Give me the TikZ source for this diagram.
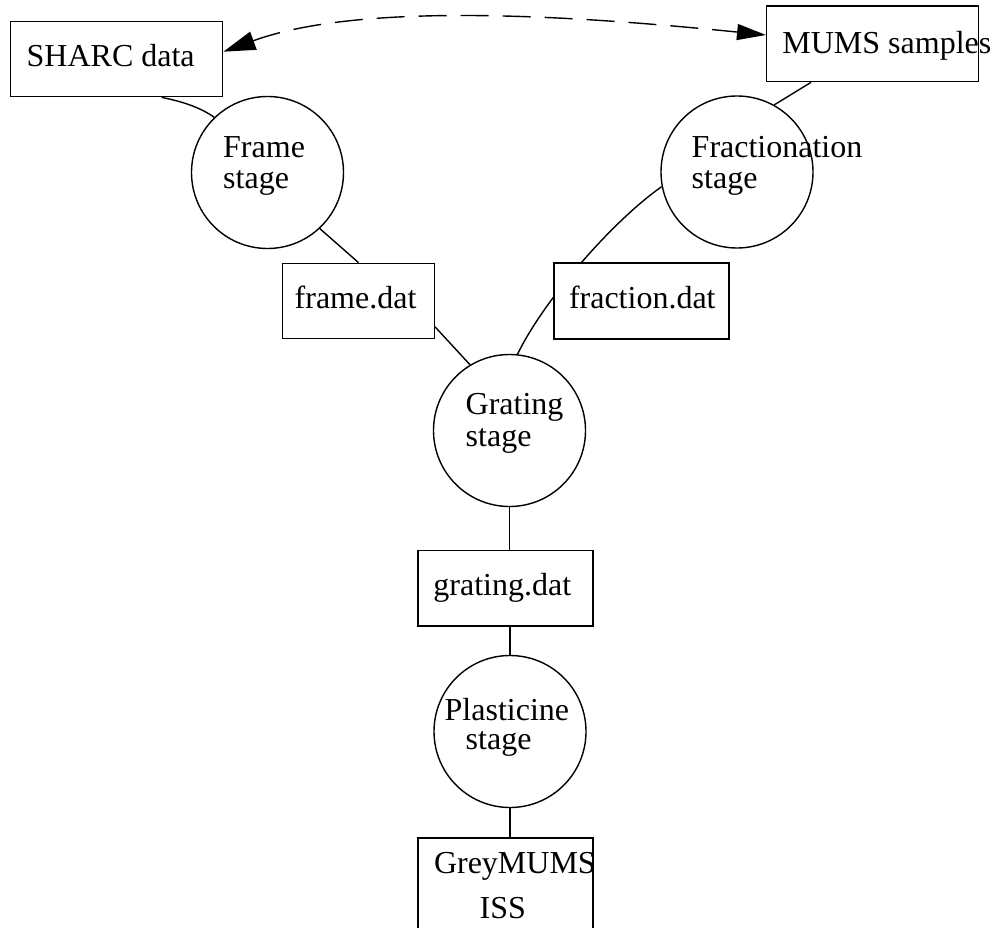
\documentclass[tikz,border=0pt]{standalone}
\usepackage{fontspec}
\setmainfont{Liberation Serif}
\usetikzlibrary{arrows.meta,backgrounds}
\begin{document}
\begin{tikzpicture}[x=1pt,y=-1pt, line width=1.4pt,
  box/.style={draw, fill=white, rectangle, inner sep=0pt},
  stagecirc/.style={draw, fill=white, circle, minimum size=152pt, inner sep=0pt},
  txt/.style={anchor=base west, inner sep=0pt, font=\fontsize{32}{36}\selectfont},
  link/.style={line width=1.4pt},
  dashlink/.style={line width=1.4pt, dash pattern=on 28pt off 14pt,
    {Triangle[length=32pt,width=19pt]}-{Triangle[length=29pt,width=16pt]}}]
\useasboundingbox (0,0) rectangle (998,928);
\clip (0,0) rectangle (998,928);

% boxes
\node[box, minimum width=212pt, minimum height=75pt]   (sharc)    at (116.7,59.2) {};
\node[box, minimum width=212pt, minimum height=75.7pt] (mums)     at (872.7,43.8) {};
\node[box, minimum width=151.6pt, minimum height=75pt] (framedat) at (358.5,300.8) {};
\node[box, minimum width=175pt, minimum height=76pt]   (fracdat)  at (641.5,301) {};
\node[box, minimum width=175pt, minimum height=75.3pt] (gratdat)  at (505.5,588.3) {};
\node[box, minimum width=175pt, minimum height=112pt]  (grey)     at (505.5,894) {};

% stages
\node[stagecirc] (frame)   at (267.5,172.5) {};
\node[stagecirc] (frac)    at (737,172) {};
\node[stagecirc] (grating) at (509.5,430.5) {};
\node[stagecirc] (plast)   at (510,731.5) {};

% texts
\node[txt] (tsharc) at (26,66.7) {SHARC data};
\node[txt] (tmums)  at (781.7,53.3) {MUMS samples};
\node[txt] (tframe1) at (222.5,158) {Frame};
\node[txt] (tframe2) at (222.5,188.5) {stage};
\node[txt] (tfrac1) at (691,157.5) {Fractionation};
\node[txt] (tfrac2) at (691,188.5) {stage};
\node[txt] (tframedat) at (294,308.3) {frame.dat};
\node[txt] (tfracdat)  at (568.3,308.3) {fraction.dat};
\node[txt] (tgrat1) at (465,414) {Grating};
\node[txt] (tgrat2) at (465,446) {stage};
\node[txt] (tgratdat) at (432.7,595) {grating.dat};
\node[txt] (tplast1) at (444,720) {Plasticine};
\node[txt] (tplast2) at (465,749.5) {stage};
\node[txt] (tgrey1) at (433.3,873.3) {GreyMUMS};
\node[txt] (tgrey2) at (479,918.3) {ISS};

% connector end points
\coordinate (sharcA) at ([xshift=45pt]sharc.south);
\coordinate (sharcT) at ([yshift=7.5pt]sharc.west -| sharc.east);
\coordinate (mumsA)  at ([xshift=-61.7pt]mums.south);
\coordinate (mumsT)  at ([yshift=8.8pt]mums.west);
\coordinate (framedatA) at ([yshift=-26pt]framedat.east);

\begin{pgfonlayer}{background}
\draw[link] (sharcA) .. controls (180,101) and (200,107) .. (frame.134);
\draw[link] (frame.-47) -- (framedat.north);
\draw[link] (framedatA) -- (grating.121);
\draw[link] (mumsA) -- (frac.61);
\draw[link] (frac.191) .. controls (612.8,220.9) and (544,299.6) .. (grating.84.5);
\draw[link] (grating.south) -- (grating.south |- gratdat.north);
\draw[link] (plast.north |- gratdat.south) -- (plast.north);
\draw[link] (plast.south) -- (plast.south |- grey.north);
\end{pgfonlayer}

\draw[dashlink] (sharcT) .. controls (354,4) and (550,13) .. (mumsT);
\end{tikzpicture}
\end{document}
